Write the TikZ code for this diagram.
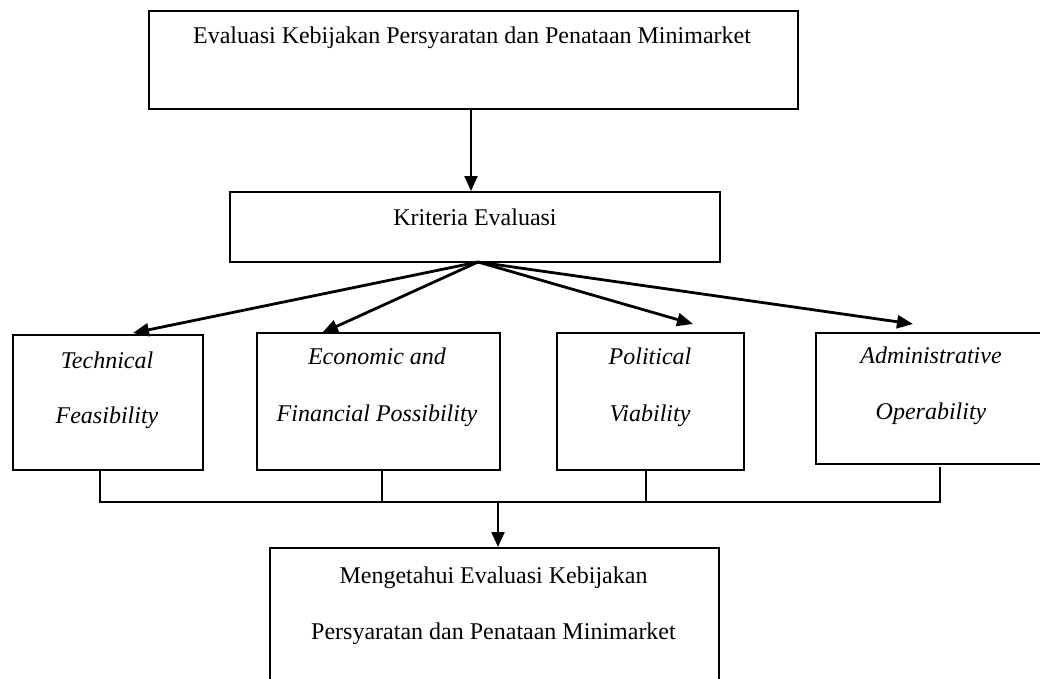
\documentclass[tikz,border=0pt]{standalone}
\usepackage{fontspec}
\setmainfont{Liberation Serif}
\usetikzlibrary{arrows.meta}
\begin{document}
\begin{tikzpicture}[x=1pt,y=-1pt,
  box/.style={draw,line width=1.8pt,rectangle,inner sep=0pt,anchor=north west},
  lbl/.style={inner sep=0pt,anchor=base,font=\fontsize{24}{28}\selectfont},
  ilbl/.style={inner sep=0pt,anchor=base,font=\fontsize{24}{28}\selectfont\itshape},
  arr/.style={line width=2.2pt,-{Triangle[length=15pt,width=13pt]}},
  fanarr/.style={line width=2.8pt,-{Triangle[length=16pt,width=13pt]}},
  link/.style={line width=1.8pt}]
\useasboundingbox (0,0) rectangle (1040,678);
% boxes
\node[box,minimum width=649pt,minimum height=98pt] (top) at (148,10) {};
\node[box,minimum width=490pt,minimum height=70pt] (krit) at (229,191) {};
\node[box,minimum width=190pt,minimum height=135pt] (tech) at (12,334) {};
\node[box,minimum width=243pt,minimum height=137pt] (econ) at (256,332) {};
\node[box,minimum width=187pt,minimum height=137pt] (pol) at (556,332) {};
\node[box,minimum width=234pt,minimum height=131pt] (adm) at (815,332) {};
\node[box,minimum width=449pt,minimum height=140pt] (res) at (269,547) {};
% texts
\node[lbl] (topt) at (472,43) {Evaluasi Kebijakan Persyaratan dan Penataan Minimarket};
\node[lbl] (kritt) at (475,225) {Kriteria Evaluasi};
\node[ilbl] (tech1) at (107,368) {Technical};
\node[ilbl] (tech2) at (107,423) {Feasibility};
\node[ilbl] (econ1) at (377,364) {Economic and};
\node[ilbl] (econ2) at (377,421) {Financial Possibility};
\node[ilbl] (pol1) at (650,364) {Political};
\node[ilbl] (pol2) at (650,421) {Viability};
\node[ilbl] (adm1) at (931,363) {Administrative};
\node[ilbl] (adm2) at (931,419) {Operability};
\node[lbl] (res1) at (493.5,583) {Mengetahui Evaluasi Kebijakan};
\node[lbl] (res2) at (493.5,639) {Persyaratan dan Penataan Minimarket};
% connector points
\coordinate (topout) at (471,108);
\coordinate (kritin) at (471,191);
\coordinate (fan) at (478,262);
\coordinate (techin) at (133,333);
\coordinate (econin) at (322,333);
\coordinate (polin) at (693,324);
\coordinate (admin) at (913,324);
\coordinate (busL) at (100,502);
\coordinate (busR) at (940,502);
\coordinate (busM) at (498,502);
\coordinate (resin) at (498,547);
\coordinate (admtick) at (940,467);
% connectors
\draw[arr] (topout) -- (kritin);
\draw[fanarr] (fan) -- (techin);
\draw[fanarr] (fan) -- (econin);
\draw[fanarr] (fan) -- (polin);
\draw[fanarr] (fan) -- (admin);
\draw[link] (tech.south -| busL) -- (busL) -- (busR) -- (admtick);
\draw[link] (econ.south -| 382,0) -- (382,502);
\draw[link] (pol.south -| 646,0) -- (646,502);
\draw[arr] (busM) -- (resin);
\end{tikzpicture}
\end{document}
